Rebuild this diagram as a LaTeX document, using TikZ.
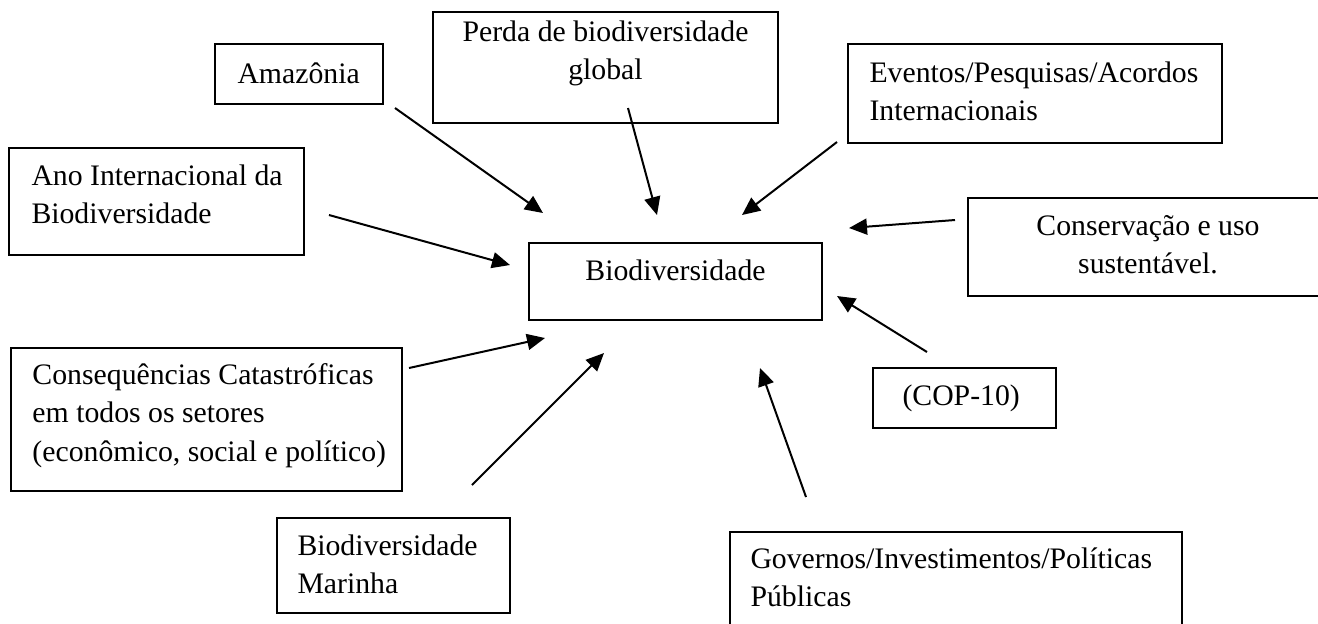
\documentclass[tikz,border=0pt]{standalone}
\usepackage{fontspec}
\setmainfont{Liberation Serif}
\usetikzlibrary{arrows.meta,fit}
\newcommand{\tlft}[1]{\begin{tabular}[t]{@{}l@{}}#1\end{tabular}}
\newcommand{\tctr}[1]{\begin{tabular}[t]{@{}c@{}}#1\end{tabular}}
\begin{document}
\begin{tikzpicture}[x=0.4pt,y=-0.4pt,
  boxst/.style={draw=black, line width=0.6pt, inner sep=0pt},
  txt/.style={inner sep=0pt, font=\fontsize{11.9}{15.4}\selectfont},
  arr/.style={line width=0.8pt, -{Triangle[length=7.2pt,width=6.4pt]}}]
\useasboundingbox (0,0) rectangle (1318,623);
% boxes
\node[boxst, fit={(215,44) (383,104)}] (amz) {};
\node[boxst, fit={(9,148) (304,255)}] (ano) {};
\node[boxst, fit={(433,12) (778,123)}] (perda) {};
\node[boxst, fit={(848,44) (1222,143)}] (evt) {};
\node[boxst, fit={(968,198) (1330,296)}] (cons) {};
\node[boxst, fit={(11,348) (402,491)}] (conseq) {};
\node[boxst, fit={(277,518) (510,613)}] (mar) {};
\node[boxst, fit={(529,243) (822,320)}] (bio) {};
\node[boxst, fit={(730,532) (1182,640)}] (gov) {};
\node[boxst, fit={(873,368) (1056,428)}] (cop) {};
% texts
\node[txt, anchor=base west] (tamz) at (237,83) {\tlft{Amazônia}};
\node[txt, anchor=base west] (tano) at (31,185) {\tlft{Ano Internacional da\\Biodiversidade}};
\node[txt, anchor=base] (tperda) at (605.5,41) {\tctr{Perda de biodiversidade\\global}};
\node[txt, anchor=base west] (tevt) at (869,82) {\tlft{Eventos/Pesquisas/Acordos\\Internacionais}};
\node[txt, anchor=base] (tcons) at (1148,235) {\tctr{Conservação e uso\\sustentável.}};
\node[txt, anchor=base west] (tconseq) at (32,384) {\tlft{Consequências Catastróficas\\em todos os setores\\(econômico, social e político)}};
\node[txt, anchor=base west] (tmar) at (297,555) {\tlft{Biodiversidade\\Marinha}};
\node[txt, anchor=base] (tbio) at (675.5,280) {\tctr{Biodiversidade}};
\node[txt, anchor=base west] (tgov) at (750,568) {\tlft{Governos/Investimentos/Políticas\\Públicas}};
\node[txt, anchor=base west] (tcop) at (902,405) {\tlft{(COP-10)}};
% arrow end points
\coordinate (s1) at (395,108); \coordinate (e1) at (543,213);
\coordinate (s2) at (628,108); \coordinate (e2) at (657,215);
\coordinate (s3) at (837,142); \coordinate (e3) at (742,215);
\coordinate (s4) at (955,220); \coordinate (e4) at (849,228);
\coordinate (s5) at (329,215); \coordinate (e5) at (510,265);
\coordinate (s6) at (409,368); \coordinate (e6) at (545,338);
\coordinate (s7) at (472,485); \coordinate (e7) at (604,353);
\coordinate (s8) at (806,497); \coordinate (e8) at (760,368);
\coordinate (s9) at (927,352); \coordinate (e9) at (837,296);
\draw[arr] (s1) -- (e1);
\draw[arr] (s2) -- (e2);
\draw[arr] (s3) -- (e3);
\draw[arr] (s4) -- (e4);
\draw[arr] (s5) -- (e5);
\draw[arr] (s6) -- (e6);
\draw[arr] (s7) -- (e7);
\draw[arr] (s8) -- (e8);
\draw[arr] (s9) -- (e9);
\end{tikzpicture}
\end{document}
